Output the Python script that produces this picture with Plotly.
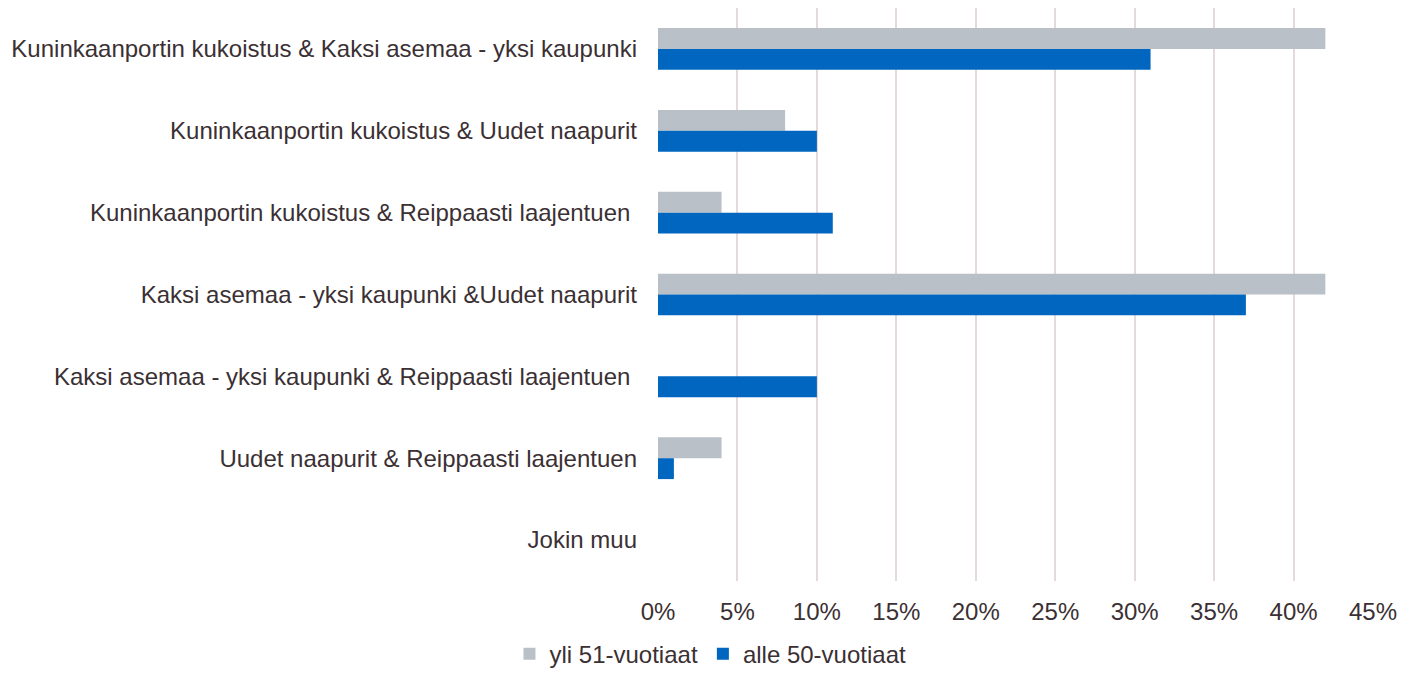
import plotly.graph_objects as go

# 分类（自上而下）
categories = [
    "Kuninkaanportin kukoistus & Kaksi asemaa - yksi kaupunki",
    "Kuninkaanportin kukoistus & Uudet naapurit",
    "Kuninkaanportin kukoistus & Reippaasti laajentuen\u00a0",
    "Kaksi asemaa - yksi kaupunki &Uudet naapurit",
    "Kaksi asemaa - yksi kaupunki & Reippaasti laajentuen\u00a0",
    "Uudet naapurit & Reippaasti laajentuen",
    "Jokin muu",
]
yli_51 = [0.42, 0.08, 0.04, 0.42, 0.0, 0.04, 0.0]
alle_50 = [0.31, 0.10, 0.11, 0.37, 0.10, 0.01, 0.0]
tick_vals = [0, 0.05, 0.10, 0.15, 0.20, 0.25, 0.30, 0.35, 0.40, 0.45]

TEXT = "#3B3033"
GRID = "#E6D9D9"
FONT = "Liberation Sans, Arial, sans-serif"

fig = go.Figure()
fig.add_trace(go.Bar(name="yli 51-vuotiaat", y=categories, x=yli_51, orientation="h",
                     marker=dict(color="#B9C0C7", line_width=0)))
fig.add_trace(go.Bar(name="alle 50-vuotiaat", y=categories, x=alle_50, orientation="h",
                     marker=dict(color="#0066BF", line_width=0)))

fig.update_layout(
    width=1422, height=673,
    paper_bgcolor="white", plot_bgcolor="white",
    font=dict(family=FONT, size=24, color=TEXT),
    barmode="group", bargap=0.49, bargroupgap=0,
    margin=dict(l=650, r=57, t=0, b=100),
    xaxis=dict(range=[0, 0.45], tickvals=tick_vals, tickformat=".0%",
               showgrid=True, gridcolor=GRID, gridwidth=2,
               zeroline=False, showline=False, ticks="",
               ticklabelstandoff=14,
               tickfont=dict(size=24, color=TEXT)),
    yaxis=dict(autorange="reversed", showgrid=False, showline=False, ticks="",
               ticklabelstandoff=20, tickfont=dict(size=24, color=TEXT)),
    legend=dict(orientation="h", xref="container", x=0.494, xanchor="center",
                yref="container", y=0.04, yanchor="middle",
                font=dict(size=24, color=TEXT), itemwidth=30),
    showlegend=True,
)

fig.write_html("out.html")
